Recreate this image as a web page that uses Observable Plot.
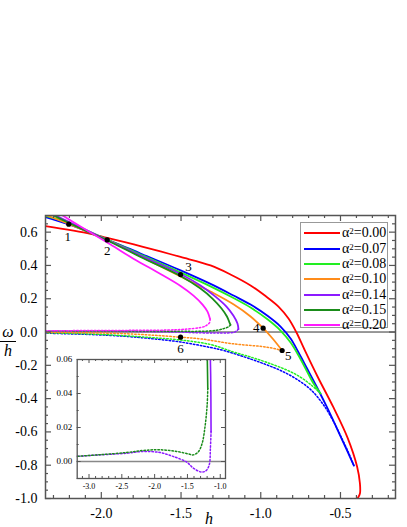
<!DOCTYPE html>
<html><head><meta charset="utf-8">
<script src="https://cdn.jsdelivr.net/npm/d3@7"></script>
<script src="https://cdn.jsdelivr.net/npm/@observablehq/plot@0.6"></script>
<style>
body{margin:0;background:#fff;}
#wrap{position:relative;width:407px;height:527px;font-family:"Liberation Serif","Times New Roman",serif;overflow:hidden;}
#wrap > svg{position:absolute;}
.lab{position:absolute;font-style:italic;font-size:16px;line-height:1;color:#000;}
#legend{position:absolute;left:300px;top:222px;width:88px;height:106px;border:1px solid #999;background:#fff;box-sizing:border-box;}
.lrow{position:absolute;left:0;height:16px;font-size:14px;line-height:16px;white-space:nowrap;}
.lrow svg{position:absolute;left:2px;top:0;}
.lrow span{position:absolute;left:41px;top:0;}
sup{font-size:9px;vertical-align:top;position:relative;top:-2px;}
</style></head><body><div id="wrap"></div>
<script>
// ---------- data: [h , ω/h] ----------
const alphas = ["0.00","0.07","0.08","0.10","0.14","0.15","0.20"];
const colors = ["#ff0000","#0000ff","#22ee22","#ff8c1a","#8c1aff","#1a8c1a","#ff1aff"];

const red_solid = [[-2.35,0.636],[-2.068,0.59],[-1.963,0.565],[-1.796,0.526],[-1.629,0.484],[-1.503,0.451],[-1.315,0.4],[-1.19,0.346],[-1.064,0.28],[-0.97,0.216],[-0.889,0.153],[-0.826,0.081],[-0.776,-0.003],[-0.726,-0.105],[-0.644,-0.267],[-0.544,-0.453],[-0.456,-0.634],[-0.396,-0.808],[-0.378,-0.91],[-0.378,-0.97],[-0.393,-1.0]];

const blue_solid = [[-2.35,0.69],[-2.204,0.646],[-1.963,0.556],[-1.754,0.472],[-1.503,0.37],[-1.315,0.289],[-1.171,0.219],[-1.064,0.165],[-0.96,0.099],[-0.876,0.033],[-0.813,-0.039],[-0.763,-0.123],[-0.713,-0.213],[-0.65,-0.327],[-0.581,-0.459],[-0.499,-0.628],[-0.416,-0.802]];
const blue_dotted = [[-0.416,-0.802],[-0.45,-0.724],[-0.494,-0.634],[-0.544,-0.537],[-0.613,-0.429],[-0.688,-0.345],[-0.782,-0.279],[-0.876,-0.231],[-0.96,-0.198],[-1.064,-0.162],[-1.232,-0.111],[-1.315,-0.093],[-1.503,-0.06],[-1.692,-0.039],[-1.88,-0.024],[-2.068,-0.015],[-2.35,-0.007]];

const green_solid = [[-2.35,0.698],[-2.204,0.655],[-1.963,0.556],[-1.754,0.466],[-1.503,0.358],[-1.315,0.274],[-1.171,0.204],[-1.064,0.147],[-0.96,0.078],[-0.876,0.009],[-0.813,-0.063],[-0.763,-0.141],[-0.713,-0.231],[-0.669,-0.309],[-0.625,-0.369]];
const green_dotted = [[-0.625,-0.369],[-0.688,-0.315],[-0.763,-0.264],[-0.845,-0.225],[-0.96,-0.183],[-1.064,-0.15],[-1.171,-0.12],[-1.315,-0.075],[-1.503,-0.048],[-1.692,-0.033],[-1.88,-0.021],[-2.068,-0.012],[-2.35,-0.005]];

const orange_solid = [[-2.35,0.703],[-2.204,0.649],[-1.963,0.553],[-1.754,0.454],[-1.503,0.334],[-1.315,0.243],[-1.169,0.165],[-1.064,0.093],[-0.985,0.023],[-0.926,-0.039],[-0.866,-0.111]];
const orange_dotted = [[-0.866,-0.111],[-0.96,-0.091],[-1.171,-0.071],[-1.378,-0.041],[-1.503,-0.031],[-1.692,-0.018],[-1.88,-0.009],[-2.068,-0.005],[-2.35,-0.002]];

const purple_solid = [[-2.35,0.73],[-2.287,0.7],[-2.13,0.628],[-1.963,0.553],[-1.754,0.46],[-1.503,0.349],[-1.378,0.28],[-1.284,0.213],[-1.215,0.153],[-1.172,0.099],[-1.146,0.051],[-1.14,0.0176]];
const purple_dotted = [[-1.14,0.0176],[-1.15,0.0079],[-1.168,-0.002],[-1.22,-0.0055],[-1.286,-0.0062],[-1.41,-0.0039],[-1.51,-0.0004],[-1.72,0.003],[-1.92,0.0053],[-2.17,0.0059],[-2.42,0.0049],[-2.83,0.0039],[-3.2,0.003]];

const dkgreen_solid = [[-2.35,0.724],[-2.3,0.7],[-2.13,0.622],[-1.963,0.55],[-1.754,0.451],[-1.503,0.337],[-1.378,0.261],[-1.303,0.201],[-1.246,0.141],[-1.212,0.093],[-1.196,0.057],[-1.19,0.043]];
const dkgreen_dotted = [[-1.19,0.043],[-1.2,0.033],[-1.235,0.0196],[-1.275,0.0108],[-1.33,0.0059],[-1.41,0.0039],[-1.489,0.0045],[-1.665,0.0059],[-1.918,0.0069],[-2.171,0.0065],[-2.422,0.0053],[-2.827,0.004],[-3.2,0.003]];

const magenta_solid = [[-2.35,0.76],[-2.243,0.7],[-2.099,0.616],[-1.942,0.526],[-1.796,0.439],[-1.629,0.349],[-1.503,0.277],[-1.422,0.219],[-1.365,0.165],[-1.334,0.123],[-1.318,0.078]];
const magenta_dotted = [[-1.318,0.078],[-1.321,0.057],[-1.347,0.036],[-1.378,0.027],[-1.472,0.017],[-1.587,0.012],[-1.817,0.01],[-2.005,0.009],[-2.35,0.008]];

const pointLabels = ["1","2","3","4","5","6"];
const pointH = [-2.204,-1.963,-1.503,-0.985,-0.866,-1.503];
const pointV = [0.648,0.553,0.345,0.023,-0.111,-0.031];

const xTicksMain = [-2.0,-1.5,-1.0,-0.5];
const yTicksMain = [-1.0,-0.8,-0.6,-0.4,-0.2,0.0,0.2,0.4,0.6];
const xTicksInset = [-3.0,-2.5,-2.0,-1.5,-1.0];
const yTicksInset = [0.00,0.02,0.04,0.06];

// ---------- build ----------
const solids = [red_solid, blue_solid, green_solid, orange_solid, purple_solid, dkgreen_solid, magenta_solid];
const dotteds = [null, blue_dotted, green_dotted, orange_dotted, purple_dotted, dkgreen_dotted, magenta_dotted];
const series = alphas.map((a,i)=>({a, color: colors[i], solid: solids[i], dotted: dotteds[i]}));
const points = pointLabels.map((l,i)=>({l, h: pointH[i], v: pointV[i]}));
const labelOffset = {"1":[-1,13],"2":[0,11],"3":[8,-8],"4":[-7,0],"5":[6,5],"6":[0,12]};

const axisColor = "#555";
const X = d=>d[0], Y = d=>d[1];

function curveMarks(list, sw, dsw) {
  const m = [];
  list.forEach(s=>{
    if (s.dotted) m.push(Plot.line(s.dotted,{x:X,y:Y,stroke:s.color,strokeWidth:dsw,strokeDasharray:"1.5,2",curve:"catmull-rom",clip:true}));
  });
  list.forEach(s=>{
    m.push(Plot.line(s.solid,{x:X,y:Y,stroke:s.color,strokeWidth:sw,curve:"catmull-rom",clip:true}));
  });
  return m;
}

function tickMarks(xMaj, xMin, yMaj, yMin, pw, ph, lMaj, lMin, sw) {
  return [
    Plot.ruleX(xMaj,{x:d=>d,insetTop:ph-lMaj,stroke:axisColor,strokeWidth:sw}),
    Plot.ruleX(xMaj,{x:d=>d,insetBottom:ph-lMaj,stroke:axisColor,strokeWidth:sw}),
    Plot.ruleX(xMin,{x:d=>d,insetTop:ph-lMin,stroke:axisColor,strokeWidth:sw}),
    Plot.ruleX(xMin,{x:d=>d,insetBottom:ph-lMin,stroke:axisColor,strokeWidth:sw}),
    Plot.ruleY(yMaj,{y:d=>d,insetRight:pw-lMaj,stroke:axisColor,strokeWidth:sw}),
    Plot.ruleY(yMaj,{y:d=>d,insetLeft:pw-lMaj,stroke:axisColor,strokeWidth:sw}),
    Plot.ruleY(yMin,{y:d=>d,insetRight:pw-lMin,stroke:axisColor,strokeWidth:sw}),
    Plot.ruleY(yMin,{y:d=>d,insetLeft:pw-lMin,stroke:axisColor,strokeWidth:sw})
  ];
}

const wrap = document.getElementById("wrap");

// main chart
{
  const W=407,H=527,mL=45,mR=12,mT=215,mB=29;
  const pw=W-mL-mR, ph=H-mT-mB;
  const xMin = d3.range(-23,-1).map(i=>i/10).filter(v=>!xTicksMain.includes(v));
  const yMin = d3.range(-20,14).filter(i=>i%4!==0).map(i=>i/20);
  const svg = Plot.plot({
    width:W,height:H,marginLeft:mL,marginRight:mR,marginTop:mT,marginBottom:mB,
    x:{domain:[-2.35,-0.155],label:null}, y:{domain:[-1.0,0.7],label:null},
    style:{fontFamily:"Liberation Serif, serif",fontSize:"14px",color:"#000",background:"transparent"},
    marks:[
      Plot.ruleY([0],{stroke:"#333",strokeWidth:1}),
      ...curveMarks(series,1.8,1.5),
      Plot.dot(points,{x:"h",y:"v",r:2.6,fill:"#000",stroke:"none"}),
      ...points.map(p=>Plot.text([p],{x:"h",y:"v",text:"l",dx:labelOffset[p.l][0],dy:labelOffset[p.l][1],fontSize:13,fill:"#000"})),
      ...tickMarks(xTicksMain,xMin,yTicksMain,yMin,pw,ph,6,3,1.2),
      Plot.frame({stroke:axisColor,strokeWidth:1.5}),
      Plot.axisX(xTicksMain,{tickSize:0,tickPadding:10,tickFormat:d=>d.toFixed(1),fontSize:14,label:null}),
      Plot.axisY(yTicksMain,{tickSize:0,tickPadding:8,tickFormat:d=>d.toFixed(1),fontSize:14,label:null})
    ]
  });
  svg.style.left="0px"; svg.style.top="0px";
  wrap.appendChild(svg);
}

// inset
{
  const W=195,H=155,mL=36.7,mR=10,mT=19,mB=17;
  const pw=W-mL-mR, ph=H-mT-mB;
  const xMin = d3.range(-31,-9).map(i=>i/10).filter(v=>!xTicksInset.includes(v));
  const yMin = [-1,1,3,5].map(i=>i/100);
  const inSeries = series.filter(s=>s.a==="0.14"||s.a==="0.15");
  const svg = Plot.plot({
    width:W,height:H,marginLeft:mL,marginRight:mR,marginTop:mT,marginBottom:mB,
    x:{domain:[-3.18,-0.92],label:null}, y:{domain:[-0.01,0.06],label:null},
    style:{fontFamily:"Liberation Serif, serif",fontSize:"9px",color:"#000",background:"transparent"},
    marks:[
      Plot.frame({fill:"#fff"}),
      Plot.ruleY([0],{stroke:"#888",strokeWidth:1.5}),
      ...curveMarks(inSeries,1.6,1.5),
      ...tickMarks(xTicksInset,xMin,yTicksInset,yMin,pw,ph,4,2,1),
      Plot.frame({stroke:axisColor,strokeWidth:1.3}),
      Plot.axisX(xTicksInset,{tickSize:0,tickPadding:5,tickFormat:d=>d.toFixed(1),fontSize:8,label:null}),
      Plot.axisY(yTicksInset,{tickSize:0,tickPadding:5,tickFormat:d=>d.toFixed(2),fontSize:9,label:null})
    ]
  });
  svg.style.left="40px"; svg.style.top="340px";
  wrap.appendChild(svg);
}

// legend
{
  const lg = document.createElement("div"); lg.id="legend";
  series.forEach((s,i)=>{
    const r = document.createElement("div"); r.className="lrow";
    r.style.top = (2.3 + i*15.3) + "px"; r.style.width="86px";
    r.innerHTML = `<svg width="38" height="16"><line x1="1" x2="37" y1="8" y2="8" stroke="${s.color}" stroke-width="2"/></svg><span>α<sup>2</sup>=${s.a}</span>`;
    lg.appendChild(r);
  });
  wrap.appendChild(lg);
}

// axis titles
{
  const om = document.createElement("div"); om.className="lab";
  om.innerHTML = `<div style="text-align:center;width:20px">ω</div><div style="border-top:1px solid #000;width:16px;margin:1px 2px"></div><div style="text-align:center;width:20px">h</div>`;
  om.style.left="-2px"; om.style.top="324px";
  wrap.appendChild(om);
  const hl = document.createElement("div"); hl.className="lab"; hl.textContent="h";
  hl.style.left="205px"; hl.style.top="511px";
  wrap.appendChild(hl);
}
</script></body></html>
